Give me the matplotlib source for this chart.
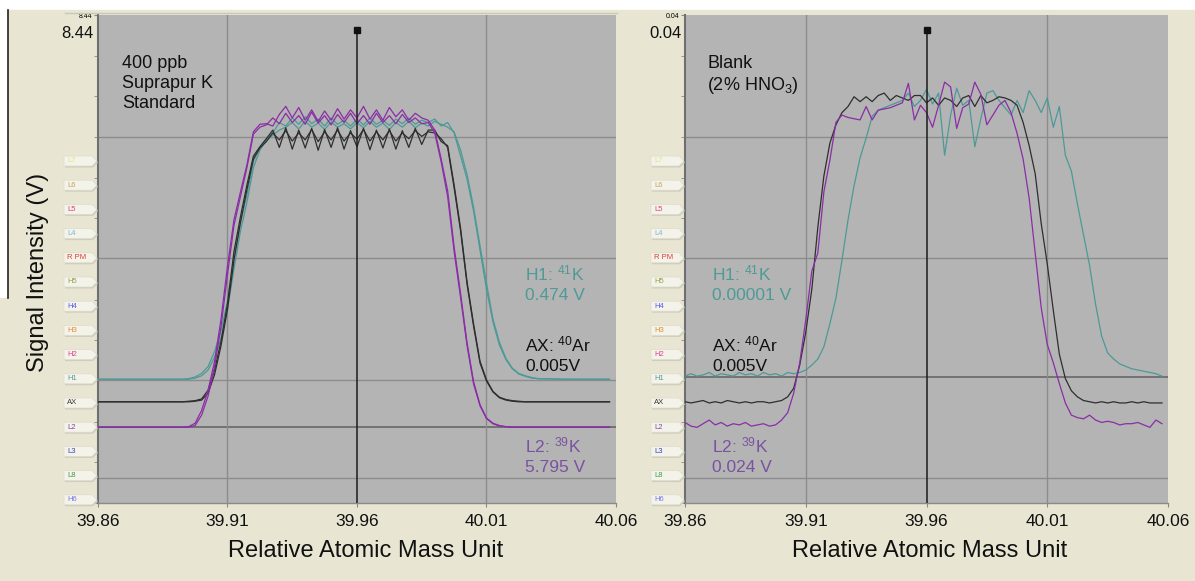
import numpy as np
import matplotlib
matplotlib.use('Agg')
import matplotlib.pyplot as plt
from matplotlib.patches import Polygon, Rectangle
from matplotlib.lines import Line2D
from matplotlib.transforms import blended_transform_factory

plt.rcParams['font.family'] = ['Liberation Sans', 'DejaVu Sans']
plt.rcParams['mathtext.fontset'] = 'custom'
plt.rcParams['mathtext.rm'] = 'Liberation Sans'
plt.rcParams['mathtext.it'] = 'Liberation Sans:italic'
plt.rcParams['mathtext.bf'] = 'Liberation Sans:bold'

# ---------------- data ----------------
# left panel: 400 ppb Suprapur K standard (two scans per cup), volts on display scale
mass_left = np.round(np.concatenate([[39.86, 39.87, 39.88],
                                     np.arange(39.89, 40.03 + 1e-9, 0.0025),
                                     [40.04, 40.05, 40.0575]]), 4)

h1_left_a = [2.14, 2.14, 2.14,
             2.14, 2.14, 2.15, 2.18, 2.24, 2.36, 2.62, 2.98, 3.50, 4.25,
             4.85, 5.33, 5.90, 6.16, 6.30, 6.40, 6.58, 6.52, 6.66, 6.55,
             6.68, 6.56, 6.64, 6.52, 6.66, 6.55, 6.62, 6.52, 6.64, 6.54,
             6.66, 6.55, 6.62, 6.53, 6.64, 6.56, 6.66, 6.55, 6.62, 6.58,
             6.64, 6.52, 6.58, 6.40, 6.00, 5.60, 5.05, 4.37, 3.70, 3.13,
             2.73, 2.48, 2.32, 2.23, 2.19, 2.16, 2.15,
             2.14, 2.14, 2.14]
h1_left_b = [2.14, 2.14, 2.14,
             2.14, 2.14, 2.14, 2.16, 2.20, 2.30, 2.52, 2.85, 3.35, 4.05,
             4.70, 5.20, 5.80, 6.10, 6.28, 6.36, 6.45, 6.50, 6.58, 6.47,
             6.60, 6.50, 6.57, 6.46, 6.59, 6.50, 6.56, 6.47, 6.58, 6.49,
             6.60, 6.50, 6.57, 6.46, 6.58, 6.50, 6.60, 6.49, 6.57, 6.52,
             6.60, 6.55, 6.50, 6.42, 6.10, 5.68, 5.12, 4.45, 3.80, 3.18,
             2.78, 2.50, 2.33, 2.24, 2.20, 2.17, 2.15,
             2.14, 2.14, 2.14]
ax_left_a = [1.75, 1.75, 1.75,
             1.75, 1.75, 1.76, 1.77, 1.80, 1.95, 2.30, 2.80, 3.45, 4.35,
             4.95, 5.50, 6.00, 6.16, 6.30, 6.45, 6.15, 6.49, 6.12, 6.45,
             6.14, 6.48, 6.10, 6.46, 6.15, 6.49, 6.12, 6.44, 6.16, 6.48,
             6.11, 6.45, 6.14, 6.47, 6.12, 6.44, 6.15, 6.48, 6.20, 6.45,
             6.45, 6.25, 6.18, 5.50, 4.75, 3.82, 3.10, 2.45, 2.13, 1.93,
             1.83, 1.79, 1.77, 1.76, 1.75, 1.75, 1.75,
             1.75, 1.75, 1.75]
ax_left_b = [1.75, 1.75, 1.75,
             1.75, 1.75, 1.75, 1.76, 1.78, 1.90, 2.22, 2.72, 3.35, 4.20,
             4.85, 5.42, 5.95, 6.14, 6.25, 6.40, 6.28, 6.44, 6.26, 6.40,
             6.28, 6.46, 6.25, 6.42, 6.28, 6.45, 6.26, 6.40, 6.29, 6.46,
             6.26, 6.42, 6.28, 6.44, 6.26, 6.40, 6.30, 6.44, 6.34, 6.42,
             6.40, 6.30, 6.15, 5.45, 4.70, 3.78, 3.06, 2.42, 2.11, 1.92,
             1.82, 1.78, 1.76, 1.75, 1.75, 1.75, 1.75,
             1.75, 1.75, 1.75]
l2_left_a = [1.31, 1.31, 1.31,
             1.31, 1.31, 1.32, 1.38, 1.60, 1.95, 2.45, 3.18, 4.10, 4.90,
             5.38, 5.85, 6.42, 6.55, 6.56, 6.52, 6.72, 6.86, 6.66, 6.84,
             6.62, 6.80, 6.60, 6.78, 6.62, 6.82, 6.64, 6.80, 6.66, 6.86,
             6.64, 6.80, 6.62, 6.84, 6.68, 6.80, 6.62, 6.74, 6.66, 6.62,
             6.45, 5.95, 5.40, 4.43, 3.62, 2.77, 2.10, 1.70, 1.47, 1.38,
             1.34, 1.32, 1.31, 1.31, 1.31, 1.31, 1.31,
             1.31, 1.31, 1.31]
l2_left_b = [1.31, 1.31, 1.31,
             1.31, 1.31, 1.31, 1.34, 1.52, 1.85, 2.35, 3.05, 3.95, 4.80,
             5.30, 5.80, 6.38, 6.50, 6.54, 6.66, 6.56, 6.74, 6.58, 6.70,
             6.55, 6.76, 6.57, 6.70, 6.54, 6.72, 6.58, 6.74, 6.56, 6.70,
             6.55, 6.74, 6.58, 6.70, 6.56, 6.72, 6.58, 6.66, 6.56, 6.58,
             6.40, 5.90, 5.30, 4.35, 3.55, 2.72, 2.06, 1.68, 1.46, 1.37,
             1.33, 1.32, 1.31, 1.31, 1.31, 1.31, 1.31,
             1.31, 1.31, 1.31]

# right panel: blank (2% HNO3), one scan per cup
mass_right = np.round(np.arange(39.86, 40.0575 + 1e-9, 0.0025), 4)

h1_right = [0.0104, 0.0106, 0.0104, 0.0105, 0.0107, 0.0104, 0.0106, 0.0105, 0.0104, 0.0107,
            0.0105, 0.0106, 0.0104, 0.0107, 0.0105, 0.0106, 0.0104, 0.0107, 0.0106, 0.0107,
            0.0109, 0.0113, 0.0118, 0.0128, 0.0147, 0.0168, 0.0199, 0.0232, 0.0260, 0.0283,
            0.0299, 0.0317, 0.0322, 0.0324, 0.0326, 0.0328, 0.0330, 0.0336, 0.0325, 0.0330,
            0.0339, 0.0327, 0.0336, 0.0285, 0.0318, 0.0340, 0.0326, 0.0330, 0.0292, 0.0315,
            0.0336, 0.0338, 0.0330, 0.0324, 0.0318, 0.0330, 0.0320, 0.0338, 0.0330, 0.0320,
            0.0332, 0.0308, 0.0325, 0.0285, 0.0272, 0.0245, 0.0220, 0.0195, 0.0163, 0.0137,
            0.0123, 0.0118, 0.0114, 0.0112, 0.0110, 0.0109, 0.0108, 0.0107, 0.0106, 0.0104]
ax_right = [0.0083, 0.0082, 0.0083, 0.0084, 0.0082, 0.0083, 0.0082, 0.0084, 0.0083, 0.0082,
            0.0083, 0.0082, 0.0083, 0.0083, 0.0082, 0.0083, 0.0084, 0.0087, 0.0094, 0.0113,
            0.0140, 0.0175, 0.0226, 0.0268, 0.0295, 0.0310, 0.0320, 0.0325, 0.0333, 0.0329,
            0.0333, 0.0329, 0.0334, 0.0336, 0.0330, 0.0334, 0.0332, 0.0330, 0.0334, 0.0334,
            0.0328, 0.0332, 0.0326, 0.0332, 0.0330, 0.0325, 0.0332, 0.0334, 0.0325, 0.0334,
            0.0328, 0.0330, 0.0333, 0.0332, 0.0330, 0.0326, 0.0312, 0.0293, 0.0270, 0.0229,
            0.0196, 0.0158, 0.0122, 0.0102, 0.0092, 0.0087, 0.0084, 0.0083, 0.0082, 0.0083,
            0.0082, 0.0083, 0.0082, 0.0082, 0.0083, 0.0082, 0.0083, 0.0082, 0.0082, 0.0082]
l2_right = [0.0066, 0.0063, 0.0062, 0.0065, 0.0068, 0.0064, 0.0066, 0.0063, 0.0065, 0.0064,
            0.0066, 0.0063, 0.0064, 0.0065, 0.0063, 0.0064, 0.0068, 0.0074, 0.0090, 0.0115,
            0.0150, 0.0190, 0.0205, 0.0255, 0.0281, 0.0312, 0.0318, 0.0316, 0.0315, 0.0314,
            0.0325, 0.0314, 0.0322, 0.0323, 0.0324, 0.0326, 0.0328, 0.0344, 0.0314, 0.0326,
            0.0320, 0.0308, 0.0326, 0.0345, 0.0341, 0.0307, 0.0324, 0.0327, 0.0345, 0.0335,
            0.0310, 0.0318, 0.0326, 0.0330, 0.0320, 0.0303, 0.0282, 0.0250, 0.0205, 0.0160,
            0.0130, 0.0115, 0.0098, 0.0082, 0.0072, 0.0070, 0.0069, 0.0072, 0.0068, 0.0066,
            0.0067, 0.0066, 0.0064, 0.0065, 0.0065, 0.0066, 0.0064, 0.0062, 0.0068, 0.0065]

mass_ticks = [39.86, 39.91, 39.96, 40.01, 40.06]
channels = ['L7', 'L6', 'L5', 'L4', 'R PM', 'H5', 'H4', 'H3', 'H2', 'H1', 'AX', 'L2', 'L3', 'L8', 'H6']
channel_colors = ['#e2e27a', '#c9a15a', '#e0407f', '#7fb7d4', '#e03a32', '#9aa048', '#5a5af0',
                  '#e68a2e', '#e0408e', '#5a9a98', '#3a3a3a', '#8048a8', '#3a44b8', '#3f9a48', '#7878f0']

left_full_scale = 8.44
right_full_scale = 0.04
left_readings = ['0.474 V', '0.005V', '5.795 V']
right_readings = ['0.00001 V', '0.005V', '0.024 V']

# ---------------- style ----------------
BEIGE = '#e8e6d3'
PANEL = '#b4b4b4'
GRID = '#8c8c8c'
TEAL = '#4c9a97'
BLACK = '#2e2e2e'
PURPLE = '#8a2ea6'
TEAL_TXT = '#4e9a97'
PURPLE_TXT = '#7a529f'

W, H = 1195, 581
fig = plt.figure(figsize=(W / 100, H / 100), dpi=100, facecolor='white')


def fx(px):
    return px / W


def fy(py):
    return 1 - py / H


# beige window background
fig.patches.append(Rectangle((fx(8), 0), 1 - fx(8), fy(10), transform=fig.transFigure,
                             color=BEIGE, zorder=-10))
fig.patches.append(Rectangle((0, 0), fx(8), fy(298), transform=fig.transFigure,
                             color=BEIGE, zorder=-10))
fig.add_artist(Line2D([fx(7.5), fx(7.5)], [fy(10), fy(298)], color='#222222', lw=1.2))
fig.add_artist(Line2D([fx(65), fx(617)], [fy(12.5), fy(12.5)], color='#c9c7b6', lw=1))


def draw_tabs(x_right):
    for i, (name, col) in enumerate(zip(channels, channel_colors)):
        yc = 161 + 24.2 * i
        xl, xr = x_right - 34, x_right - 1
        pts = [(xl, yc - 5), (xr - 5, yc - 5), (xr, yc), (xr - 5, yc + 5), (xl, yc + 5)]
        shadow = [(fx(x + 1), fy(y + 1.5)) for x, y in pts]
        fig.patches.append(Polygon(shadow, closed=True, transform=fig.transFigure,
                                   facecolor='#cfcdbb', edgecolor='none', zorder=1))
        fig.patches.append(Polygon([(fx(x), fy(y)) for x, y in pts], closed=True,
                                   transform=fig.transFigure, facecolor='#f4f3ea',
                                   edgecolor='#dcdbcc', lw=0.5, zorder=2))
        fig.text(fx(xl + 3), fy(yc), name, color=col, fontsize=5.5,
                 ha='left', va='center', zorder=3)


def draw_panel(ax, mass, traces, top, hlines, dark_hline, sample_text, readings, text_x):
    ax.set_facecolor(PANEL)
    ax.set_xlim(39.86, 40.06)
    ax.set_ylim(0, top)
    for f in hlines:
        ax.axhline(f * top, color=GRID, lw=1, zorder=1)
    ax.axhline(dark_hline * top, color='#6e6e6e', lw=1.3, zorder=1)
    for m in [39.91, 40.01]:
        ax.axvline(m, color=GRID, lw=1, zorder=1)

    for y, col in traces:
        ax.plot(mass, y, color=col, lw=0.9, zorder=3)

    # peak centre marker
    trans = blended_transform_factory(ax.transData, ax.transAxes)
    ax.plot([39.96, 39.96], [0, 0.969], color='#1c1c1c', lw=1.1, transform=trans, zorder=5)
    ax.plot([39.96], [0.969], marker='s', ms=4.5, color='#111111', transform=trans,
            clip_on=False, zorder=6)

    # axes dressing
    for s in ['top', 'right']:
        ax.spines[s].set_visible(False)
    ax.spines['left'].set_color('#6f6f6f')
    ax.spines['left'].set_linewidth(1.5)
    ax.spines['bottom'].set_color('#8a8a8a')
    ax.spines['bottom'].set_linewidth(1)

    ax.set_yticks([top])
    ax.set_yticklabels([f'{top:g}'])
    ax.set_yticks(np.linspace(0, top, 13), minor=True)
    ax.tick_params(axis='y', which='both', direction='out', length=3, color='#888888',
                   labelsize=5, pad=1)
    ax.text(-0.008, 0.963, f'{top:g}', transform=ax.transAxes, ha='right', va='center',
            fontsize=12, color='#111111')

    ax.set_xticks(mass_ticks)
    ax.set_xticklabels([f'{m:.2f}' for m in mass_ticks])
    ax.tick_params(axis='x', direction='out', length=3, color='#888888', labelsize=12.5,
                   pad=5, labelcolor='#111111')

    ax.text(0.046, 0.918, sample_text, transform=ax.transAxes, ha='left', va='top',
            fontsize=13, linespacing=1.22, color='#111111')

    labels = [r'H1: $^{41}$K', r'AX: $^{40}$Ar', r'L2: $^{39}$K']
    colors = [TEAL_TXT, '#111111', PURPLE_TXT]
    rows = [283, 354, 455]
    for lab, val, col, py in zip(labels, readings, colors, rows):
        ax.text(text_x, (503 - py) / 488, lab + '\n' + val, transform=ax.transAxes,
                ha='left', va='center', fontsize=12.5, linespacing=1.35, color=col, zorder=4)


ax_l = fig.add_axes([fx(98), fy(503), (616 - 98) / W, 488 / H])
ax_r = fig.add_axes([fx(685), fy(503), (1168 - 685) / W, 488 / H])

draw_panel(ax_l, mass_left,
           [(h1_left_a, TEAL), (h1_left_b, TEAL), (ax_left_a, BLACK), (ax_left_b, BLACK),
            (l2_left_a, PURPLE), (l2_left_b, PURPLE)],
           left_full_scale, [0.75, 0.502, 0.252, 0.051], 0.156,
           '400 ppb\nSuprapur K\nStandard', left_readings, (525 - 98) / 518)

draw_panel(ax_r, mass_right,
           [(h1_right, TEAL), (ax_right, BLACK), (l2_right, PURPLE)],
           right_full_scale, [0.75, 0.502, 0.051], 0.258,
           'Blank\n(2% HNO$_3$)', right_readings, (712 - 685) / 483)

draw_tabs(98)
draw_tabs(685)

fig.text(fx(38), fy(272), 'Signal Intensity (V)', rotation=90, ha='center', va='center',
         fontsize=17, color='#111111')
fig.text(fx(366), fy(551), 'Relative Atomic Mass Unit', ha='center', va='center',
         fontsize=17, color='#111111')
fig.text(fx(930), fy(551), 'Relative Atomic Mass Unit', ha='center', va='center',
         fontsize=17, color='#111111')

fig.savefig('out.png', dpi=100, facecolor=fig.get_facecolor())
